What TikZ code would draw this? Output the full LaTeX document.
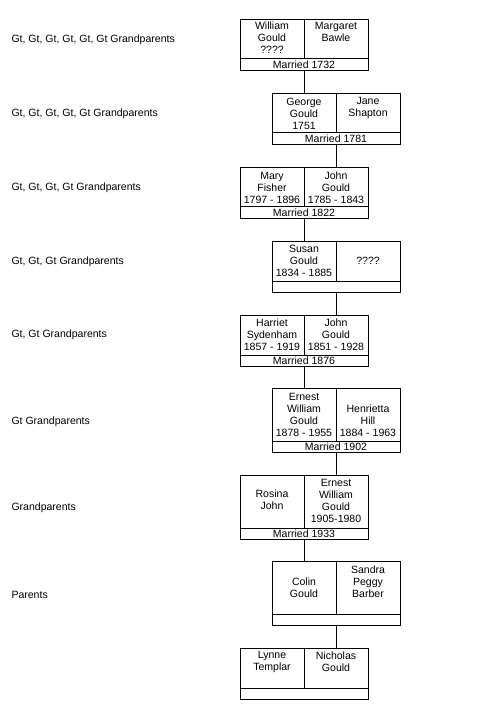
\documentclass[tikz,border=0pt]{standalone}
\usepackage{fontspec}
\setmainfont{Liberation Sans}
\begin{document}
\begin{tikzpicture}[x=0.75pt,y=-0.75pt,
  line width=0.75pt,
  fam/.style={draw, inner sep=0pt, anchor=north west, minimum width=96pt},
  famsmall/.style={fam, minimum height=38.25pt},
  famtall/.style={fam, minimum height=48pt},
  txt/.style={inner sep=0pt, align=center, yshift=-0.7pt, font=\fontsize{7.9}{9}\selectfont},
  lbl/.style={inner sep=0pt, anchor=west, yshift=-1.3pt, font=\fontsize{7.9}{9}\selectfont}]
\useasboundingbox (0,0) rectangle (485,709);
% family boxes
\node[famsmall] (f1) at (240,19) {};
\node[famsmall] (f2) at (272,93) {};
\node[famsmall] (f3) at (240,167) {};
\node[famsmall] (f4) at (272,241) {};
\node[famsmall] (f5) at (240,315) {};
\node[famtall]  (f6) at (272,388) {};
\node[famtall]  (f7) at (240,475) {};
\node[famtall]  (f8) at (272,561) {};
\node[famsmall] (f9) at (240,648) {};
\foreach \f in {f1,f2,f3,f4,f5,f6,f7,f8,f9}{
  \draw ([yshift=9pt]\f.south west) -- ([yshift=9pt]\f.south east);
  \draw (\f.north) -- ([yshift=9pt]\f.south);
}
% connectors
\foreach \a/\b in {f1/f2,f2/f3,f3/f4,f4/f5,f5/f6,f6/f7,f7/f8,f8/f9}{
  \draw (\a.south) -- (\a.south |- \b.north);
}
% texts
\node[txt] (t1a) at (272,37) {William\\Gould\\????};
\node[txt] (t1b) at (336,31) {Margaret\\Bawle};
\node[txt] (t1c) at (304,64) {Married 1732};
\node[txt] (t2a) at (304,113) {George\\Gould\\1751};
\node[txt] (t2b) at (368,107) {Jane\\Shapton};
\node[txt] (t2c) at (336,138) {Married 1781};
\node[txt] (t3a) at (272,187) {Mary\\Fisher\\1797 - 1896};
\node[txt] (t3b) at (336,187) {John\\Gould\\1785 - 1843};
\node[txt] (t3c) at (304,212) {Married 1822};
\node[txt] (t4a) at (304,260) {Susan\\Gould\\1834 - 1885};
\node[txt] (t4b) at (368,260) {????};
\node[txt] (t5a) at (272,334) {Harriet\\Sydenham\\1857 - 1919};
\node[txt] (t5b) at (336,334) {John\\Gould\\1851 - 1928};
\node[txt] (t5c) at (304,360) {Married 1876};
\node[txt] (t6a) at (304,414) {Ernest\\William\\Gould\\1878 - 1955};
\node[txt] (t6b) at (368,420) {Henrietta\\Hill\\1884 - 1963};
\node[txt] (t6c) at (336,446) {Married 1902};
\node[txt] (t7a) at (272,499) {Rosina\\John};
\node[txt] (t7b) at (336,500) {Ernest\\William\\Gould\\1905-1980};
\node[txt] (t7c) at (304,533) {Married 1933};
\node[txt] (t8a) at (304,587) {Colin\\Gould};
\node[txt] (t8b) at (368,581) {Sandra\\Peggy\\Barber};
\node[txt] (t9a) at (272,661) {Lynne\\Templar};
\node[txt] (t9b) at (336,661) {Nicholas\\Gould};
% generation labels
\node[lbl] (g1) at (11,38) {Gt, Gt, Gt, Gt, Gt, Gt Grandparents};
\node[lbl] (g2) at (11,112) {Gt, Gt, Gt, Gt, Gt Grandparents};
\node[lbl] (g3) at (11,186) {Gt, Gt, Gt, Gt Grandparents};
\node[lbl] (g4) at (11,260) {Gt, Gt, Gt Grandparents};
\node[lbl] (g5) at (11,333) {Gt, Gt Grandparents};
\node[lbl] (g6) at (11,420) {Gt Grandparents};
\node[lbl] (g7) at (11,506) {Grandparents};
\node[lbl] (g8) at (11,593) {Parents};
\end{tikzpicture}
\end{document}
